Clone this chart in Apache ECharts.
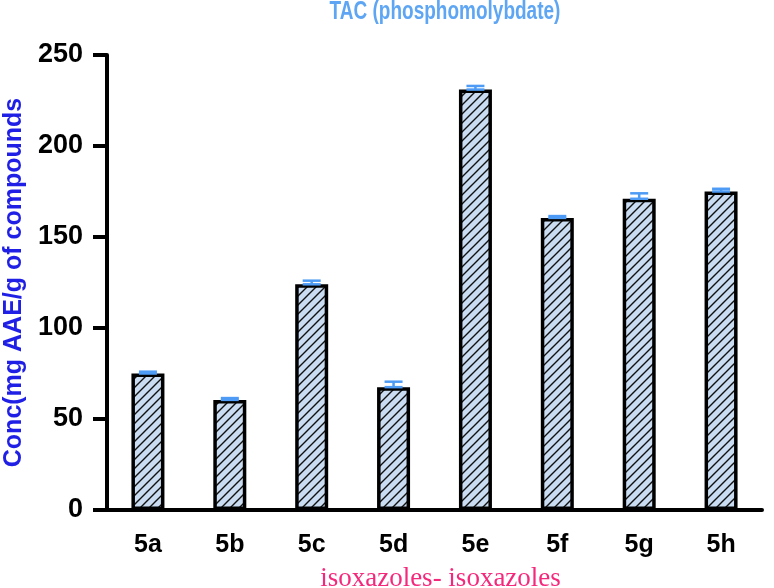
<!DOCTYPE html>
<html>
<head>
<meta charset="utf-8">
<script src="https://cdn.jsdelivr.net/npm/echarts@6/dist/echarts.min.js"></script>
<style>
  html, body { margin: 0; padding: 0; background: #fff; }
  #myChart { width: 774px; height: 588px; }
</style>
</head>
<body>
<div id="myChart"></div>
<script>
// data
var compounds = ['5a', '5b', '5c', '5d', '5e', '5f', '5g', '5h'];
var tacValues = [75, 60.5, 124, 67.5, 231, 160.5, 171, 175];
var tacErrors = [1, 1, 2, 3, 2, 1, 3, 1.5];

// hatched fill: light blue with black "/" stripes
function hatch() {
  var c = document.createElement('canvas');
  c.width = 9; c.height = 9;
  var ctx = c.getContext('2d');
  ctx.fillStyle = '#c9dcf2';
  ctx.fillRect(0, 0, 9, 9);
  ctx.strokeStyle = '#111';
  ctx.lineWidth = 1.4;
  ctx.beginPath();
  ctx.moveTo(0, 9); ctx.lineTo(9, 0);
  ctx.moveTo(-2, 2); ctx.lineTo(2, -2);
  ctx.moveTo(7, 11); ctx.lineTo(11, 7);
  ctx.stroke();
  return c;
}

var errData = compounds.map(function (c, i) {
  return [i, tacValues[i], tacValues[i] + tacErrors[i]];
});

var myChart = echarts.init(document.getElementById('myChart'));
myChart.setOption({
  animation: false,
  textStyle: { fontFamily: 'Liberation Sans, Arial, sans-serif' },
  // condensed title: no narrow font installed, so squeeze it horizontally
  graphic: [{
    type: 'text',
    x: 445,
    y: 12,
    scaleX: 0.76,
    style: {
      text: 'TAC (phosphomolybdate)',
      fill: '#5ea6f3',
      font: 'bold 25px Liberation Sans, Arial, sans-serif',
      textAlign: 'center',
      textVerticalAlign: 'middle'
    }
  }],
  grid: { left: 107, right: 12, top: 55, bottom: 78, containLabel: false, outerBoundsMode: 'none' },
  xAxis: {
    type: 'category',
    data: compounds,
    name: 'isoxazoles- isoxazoles',
    nameLocation: 'middle',
    nameGap: 55,
    nameTextStyle: { color: '#f5297c', fontSize: 27, fontFamily: 'Liberation Serif, DejaVu Serif, serif', padding: [0, 0, 0, 12] },
    axisLine: { lineStyle: { color: '#000', width: 4 } },
    axisTick: { alignWithLabel: true, length: 14, lineStyle: { color: '#000', width: 4 } },
    axisLabel: { color: '#000', fontSize: 25, fontWeight: 'bold', margin: 23 }
  },
  yAxis: {
    type: 'value',
    min: 0, max: 250, interval: 50,
    name: 'Conc(mg AAE/g of compounds',
    nameLocation: 'middle',
    nameGap: 76,
    nameTextStyle: { color: '#1f1fe6', fontSize: 25, fontWeight: 'bold' },
    axisLine: { show: true, lineStyle: { color: '#000', width: 4 } },
    axisTick: { show: true, length: 14, lineStyle: { color: '#000', width: 4 } },
    axisLabel: { color: '#000', fontSize: 27, fontWeight: 'bold', margin: 24 },
    splitLine: { show: false }
  },
  series: [{
    type: 'bar',
    data: tacValues,
    barWidth: 33,
    itemStyle: {
      color: { image: hatch(), repeat: 'repeat' },
      borderColor: '#000',
      borderWidth: 3.5
    }
  }, {
    type: 'custom',
    data: errData,
    z: 10,
    renderItem: function (params, api) {
      var x = api.value(0);
      var base = api.coord([x, api.value(1)]);
      var top = api.coord([x, api.value(2)]);
      var hw = 9;
      var st = { stroke: '#4d9bf5', lineWidth: 2.5 };
      return {
        type: 'group',
        children: [
          { type: 'line', shape: { x1: base[0], y1: base[1], x2: top[0], y2: top[1] }, style: st },
          { type: 'line', shape: { x1: top[0] - hw, y1: top[1], x2: top[0] + hw, y2: top[1] }, style: st },
          { type: 'line', shape: { x1: base[0] - hw, y1: base[1], x2: base[0] + hw, y2: base[1] }, style: st }
        ]
      };
    }
  }]
});
</script>
</body>
</html>
